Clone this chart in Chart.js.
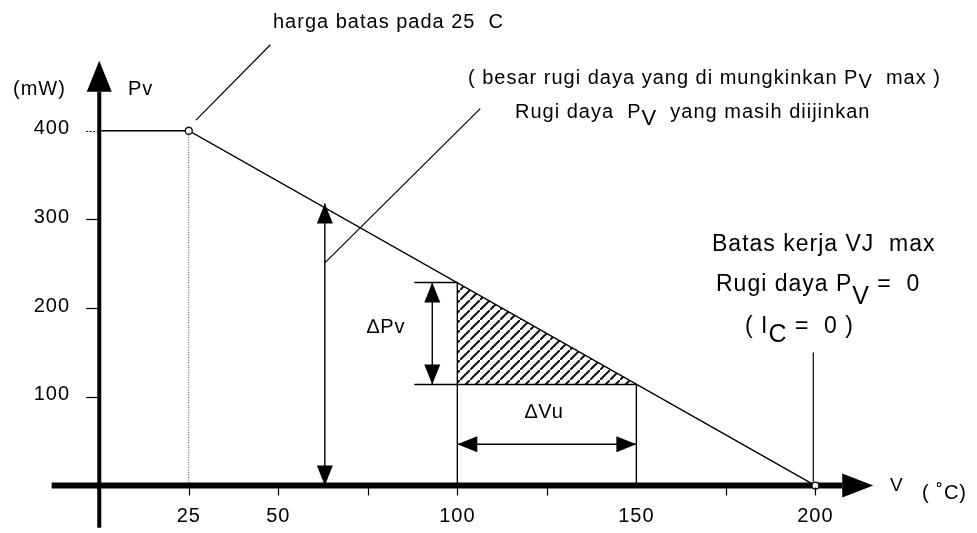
<!DOCTYPE html>
<html>
<head>
<meta charset="utf-8">
<script src="https://cdn.jsdelivr.net/npm/chart.js@4.4.1/dist/chart.umd.min.js"></script>
<style>
  html, body { margin: 0; padding: 0; background: #fff; }
  #wrap { position: relative; width: 977px; height: 533px; }
</style>
</head>
<body>
<div id="wrap"><canvas id="chart"></canvas></div>
<script>
// Derating curve: allowed power loss Pv (mW) over temperature V (°C)
const curveTemp = [0, 25, 200];
const curvePower = [400, 400, 0];

// axis ticks and labels
const xTickValues = [25, 50, 75, 100, 125, 175, 200];
const xLabelValues = [25, 50, 100, 150, 200];
const yTickValues = [100, 200, 300, 400];

// working range and the power drop across it
const rangeTemp = [100, 150];
const rangePower = [229, 114];

// allowed loss at 63 °C
const lossTemp = 63;
const lossPower = [0, 318];

// marked points on the curve
const markTemp = [25, 200];
const markPower = [400, 0];

const FONT = '"Liberation Sans", Arial, Helvetica, sans-serif';
const INK = '#000';

const pts = (xs, ys) => xs.map((v, i) => ({ x: v, y: ys[i] }));

function seg(points, extra) {
    return Object.assign({
        data: points,
        borderColor: INK,
        borderWidth: 1.4,
        pointRadius: 0,
        fill: false,
        tension: 0,
        order: 1
    }, extra);
}

// diagonal hatch used for the working range triangle
function hatchPattern() {
    const w = 10, h = 10;
    const c = document.createElement('canvas');
    c.width = w;
    c.height = h;
    const g = c.getContext('2d');
    g.strokeStyle = '#111';
    g.lineWidth = 2;
    [[0, 0], [w, -h], [-w, h]].forEach(([dx, dy]) => {
        g.beginPath();
        g.moveTo(dx, h + dy);
        g.lineTo(w + dx, dy);
        g.stroke();
    });
    return g.createPattern(c, 'repeat');
}

function arrowHead(ctx, tx, ty, ux, uy, len, half) {
    const bx = tx - ux * len, by = ty - uy * len;
    ctx.beginPath();
    ctx.moveTo(tx, ty);
    ctx.lineTo(bx - uy * half, by + ux * half);
    ctx.lineTo(bx + uy * half, by - ux * half);
    ctx.closePath();
    ctx.fill();
}

// text with shifted pieces (subscripts)
function richText(ctx, x, y, parts, size) {
    let cx = x;
    parts.forEach(p => {
        const s = p.size || size;
        ctx.font = s + 'px ' + FONT;
        ctx.fillText(p.t, cx, y + (p.dy || 0));
        cx += ctx.measureText(p.t).width + (p.gap || 0);
    });
}

const notes = [
    { x: 273, y: 22, size: 20, parts: [{ t: 'harga batas pada 25  C' }] },
    { x: 13, y: 89, size: 20, parts: [{ t: '(mW)' }] },
    { x: 128, y: 89, size: 20, parts: [{ t: 'Pv' }] },
    { x: 468, y: 78, size: 20, parts: [{ t: '( besar rugi daya yang di mungkinkan P' }, { t: 'V', dy: 4 }, { t: '  max )' }] },
    { x: 515, y: 112, size: 20, parts: [{ t: 'Rugi daya  P' }, { t: 'V', dy: 7, size: 22 }, { t: '  yang masih diijinkan' }] },
    { x: 367, y: 327, size: 20, parts: [{ t: '\u2206Pv' }] },
    { x: 525, y: 412, size: 20, parts: [{ t: '\u2206Vu' }] },
    { x: 712, y: 245, size: 23, parts: [{ t: 'Batas kerja VJ  max' }] },
    { x: 716, y: 285, size: 23, parts: [{ t: 'Rugi daya P' }, { t: 'V', dy: 12, size: 25 }, { t: ' =  0' }] },
    { x: 745, y: 327, size: 23, parts: [{ t: '( I' }, { t: 'C', dy: 8, size: 25 }, { t: ' =  0 )' }] },
    { x: 890, y: 486, size: 19, parts: [{ t: 'V' }] },
    { x: 922, y: 493, size: 20, parts: [{ t: '( \u02DAC)' }] }
];

const extras = {
    id: 'extras',
    afterDatasetsDraw(chart) {
        const { ctx, scales: { x, y } } = chart;
        ctx.save();
        ctx.fillStyle = INK;
        ctx.strokeStyle = INK;

        // arrowheads on flagged datasets
        chart.data.datasets.forEach((ds, i) => {
            if (!ds.arrow) return;
            const p = chart.getDatasetMeta(i).data;
            const a = p[0], b = p[p.length - 1];
            const dx = b.x - a.x, dy = b.y - a.y;
            const d = Math.hypot(dx, dy);
            const ux = dx / d, uy = dy / d;
            const { len, half, outside, both } = ds.arrow;
            const off = outside ? len : 0;
            arrowHead(ctx, b.x + ux * off, b.y + uy * off, ux, uy, len, half);
            if (both) arrowHead(ctx, a.x - ux * off, a.y - uy * off, -ux, -uy, len, half);
        });

        // tick marks
        const x0 = x.getPixelForValue(0);
        const y0 = y.getPixelForValue(0);
        ctx.lineWidth = 1.2;
        yTickValues.forEach(v => {
            const py = Math.round(y.getPixelForValue(v)) + 0.5;
            ctx.setLineDash(v === 400 ? [2, 1.5] : []);
            ctx.beginPath();
            ctx.moveTo(x0 - 13, py);
            ctx.lineTo(x0 - 2, py);
            ctx.stroke();
        });
        ctx.setLineDash([]);
        xTickValues.forEach(v => {
            const px = Math.round(x.getPixelForValue(v)) + 0.5;
            ctx.beginPath();
            ctx.moveTo(px, y0 + 2);
            ctx.lineTo(px, y0 + 10);
            ctx.stroke();
        });

        // tick labels
        ctx.textBaseline = 'middle';
        ctx.font = '20px ' + FONT;
        ctx.letterSpacing = '1px';
        ctx.textAlign = 'right';
        yTickValues.forEach(v => ctx.fillText(String(v), 70, y.getPixelForValue(v) - 2));
        ctx.textAlign = 'center';
        xLabelValues.forEach(v => ctx.fillText(String(v), x.getPixelForValue(v), y0 + 31));

        // annotations
        ctx.textAlign = 'left';
        notes.forEach(n => richText(ctx, n.x, n.y, n.parts, n.size));
        ctx.restore();
    }
};

const ctx = document.getElementById('chart').getContext('2d');

new Chart(ctx, {
    type: 'line',
    data: {
        datasets: [
            // open circles at the curve corners
            {
                data: pts(markTemp, markPower),
                showLine: false,
                pointRadius: 3.5,
                pointBackgroundColor: '#fff',
                pointBorderColor: INK,
                pointBorderWidth: 1.3,
                order: 0
            },
            seg(pts(curveTemp, curvePower)),
            // axes
            seg([{ x: -13.3, y: 0 }, { x: 207.5, y: 0 }], { borderWidth: 6, arrow: { len: 31, half: 12, outside: true } }),
            seg([{ x: 0, y: -50 }, { x: 0, y: 444 }], { borderWidth: 4, arrow: { len: 31, half: 12.5, outside: true } }),
            // guide at 25 °C
            seg([{ x: 25, y: 0 }, { x: 25, y: 400 }], { borderWidth: 1, borderDash: [1, 1.5], borderColor: '#444' }),
            // working range bounds
            seg([{ x: rangeTemp[0], y: 0 }, { x: rangeTemp[0], y: rangePower[0] }]),
            seg([{ x: rangeTemp[1], y: 0 }, { x: rangeTemp[1], y: rangePower[1] }]),
            seg([{ x: 88, y: rangePower[0] }, { x: rangeTemp[0], y: rangePower[0] }]),
            seg([{ x: 88, y: rangePower[1] }, { x: rangeTemp[1], y: rangePower[1] }]),
            // dimension arrows
            seg([{ x: 93, y: rangePower[1] }, { x: 93, y: rangePower[0] }], { arrow: { len: 20, half: 8, both: true } }),
            seg([{ x: rangeTemp[0], y: 46.5 }, { x: rangeTemp[1], y: 46.5 }], { arrow: { len: 20, half: 8, both: true } }),
            seg(pts([lossTemp, lossTemp], lossPower), { arrow: { len: 20, half: 8, both: true } }),
            // leader lines
            seg([{ x: 27, y: 412 }, { x: 47.8, y: 497 }], { borderWidth: 1.2 }),
            seg([{ x: lossTemp, y: 251 }, { x: 106.4, y: 425 }], { borderWidth: 1.2 }),
            seg([{ x: 199.4, y: 4.5 }, { x: 199.4, y: 150 }], { borderWidth: 1.2 }),
            // hatched triangle under the curve
            {
                data: pts(rangeTemp, rangePower),
                borderWidth: 0,
                pointRadius: 0,
                tension: 0,
                fill: { value: rangePower[1] },
                backgroundColor: hatchPattern(),
                order: 5
            }
        ]
    },
    options: {
        responsive: true,
        maintainAspectRatio: false,
        animation: false,
        layout: { padding: 0 },
        plugins: {
            legend: { display: false },
            tooltip: { enabled: false },
            title: { display: false }
        },
        scales: {
            x: { type: 'linear', display: false, min: -26.24, max: 243.65 },
            y: { type: 'linear', display: false, min: -47.51, max: 541.44 }
        }
    },
    plugins: [extras]
});
</script>
</body>
</html>
